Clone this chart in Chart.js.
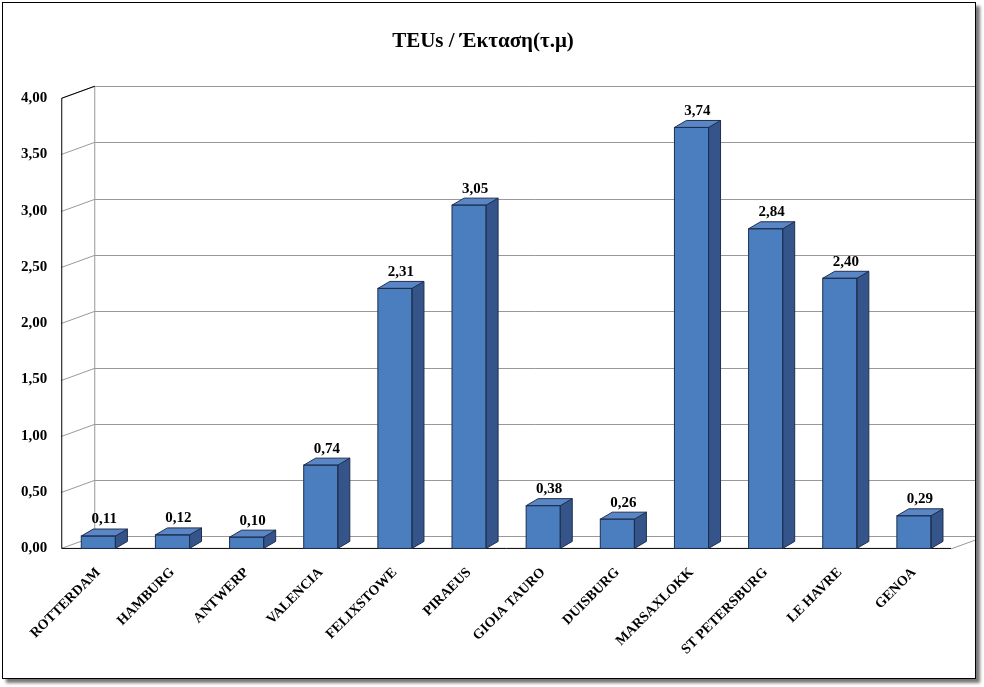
<!DOCTYPE html>
<html><head><meta charset="utf-8">
<script src="https://cdn.jsdelivr.net/npm/chart.js@4"></script>
<style>
html,body{margin:0;padding:0;background:#fff;}
#wrap{position:absolute;left:2px;top:2px;width:972px;height:675px;border:1px solid #000;box-shadow:4px 4px 3px #777;background:#fff;}
canvas{display:block;}
</style></head><body>
<div id="wrap"><canvas id="c" width="972" height="675"></canvas></div>
<script>
const categories=["ROTTERDAM","HAMBURG","ANTWERP","VALENCIA","FELIXSTOWE","PIRAEUS","GIOIA TAURO","DUISBURG","MARSAXLOKK","ST PETERSBURG","LE HAVRE","GENOA"];
const values=[0.11,0.12,0.10,0.74,2.31,3.05,0.38,0.26,3.74,2.84,2.40,0.29];
const title="TEUs / Έκταση(τ.μ)";
const FONT="'Liberation Serif','Times New Roman',serif";
const WX=33,WY=12,BX=12,BY=7;
const fmt=v=>v.toFixed(2).replace('.',',');
const threeD={id:'threeD',
beforeDatasetsDraw(ch){
 const c=ch.ctx,a=ch.chartArea,y=ch.scales.y;
 c.save();c.strokeStyle='#999';c.lineWidth=1;
 y.ticks.forEach(t=>{const py=Math.round(y.getPixelForValue(t.value))+0.5;
  c.beginPath();c.moveTo(a.left,py);c.lineTo(a.left+WX,py-WY);c.lineTo(a.right+WX,py-WY);c.stroke();});
 const top=y.getPixelForValue(4),b=y.getPixelForValue(0);
 c.beginPath();c.moveTo(a.left+WX+0.5,top-WY);c.lineTo(a.left+WX+0.5,b-WY);c.stroke();
 c.beginPath();c.moveTo(a.right,b+0.5);c.lineTo(a.right+WX,b-WY+0.5);c.stroke();
 c.strokeStyle='#000';
 c.beginPath();c.moveTo(a.left+0.5,top);c.lineTo(a.left+0.5,b);c.lineTo(a.right,b);c.stroke();
 c.beginPath();c.moveTo(a.left+WX+0.5,top-WY);c.lineTo(a.left+0.5,top);c.stroke();
 c.restore();},
afterDatasetsDraw(ch){
 const c=ch.ctx;c.save();
 ch.getDatasetMeta(0).data.forEach((e,i)=>{
  const l=e.x-e.width/2,r=e.x+e.width/2,t=e.y,b=e.base;
  c.strokeStyle='#1f2f4f';c.lineWidth=1;
  c.fillStyle='#34548a';c.beginPath();c.moveTo(r,t);c.lineTo(r+BX,t-BY);c.lineTo(r+BX,b-BY);c.lineTo(r,b);c.closePath();c.fill();c.stroke();
  c.fillStyle='#5a86c6';c.beginPath();c.moveTo(l,t);c.lineTo(l+BX,t-BY);c.lineTo(r+BX,t-BY);c.lineTo(r,t);c.closePath();c.fill();c.stroke();
  c.strokeRect(l,t,r-l,b-t);
  c.fillStyle='#000';c.font='bold 15px '+FONT;c.textAlign='center';c.textBaseline='bottom';
  c.fillText(fmt(values[i]),e.x+BX/2,t-BY-2);
 });c.restore();}};
new Chart(document.getElementById('c'),{type:'bar',
data:{labels:categories,datasets:[{data:values,backgroundColor:'#4a7ebf',barPercentage:0.46,categoryPercentage:1}]},
options:{responsive:false,animation:false,
 layout:{padding:{left:12,right:24,top:10,bottom:12}},
 plugins:{legend:{display:false},tooltip:{enabled:false},
  title:{display:true,text:title,color:'#000',font:{family:FONT,size:21,weight:'bold'},padding:{top:16,bottom:44}}},
 scales:{
  x:{grid:{display:false},border:{display:false},ticks:{color:'#000',font:{family:FONT,size:14,weight:'bold'},maxRotation:45,minRotation:45,autoSkip:false,padding:8}},
  y:{min:0,max:4,grid:{display:false},border:{display:false},ticks:{stepSize:0.5,color:'#000',font:{family:FONT,size:15,weight:'bold'},callback:v=>fmt(v),padding:6}}}},
plugins:[threeD]});
</script></body></html>
